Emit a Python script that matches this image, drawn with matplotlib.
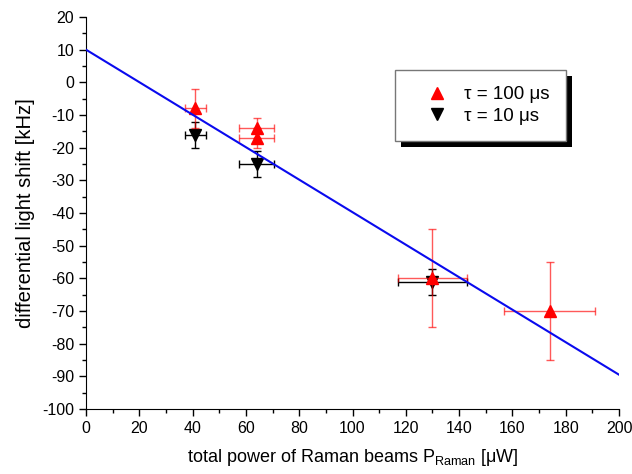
import matplotlib
matplotlib.use("Agg")
import matplotlib.pyplot as plt
from matplotlib.patches import Rectangle
from matplotlib.transforms import IdentityTransform
from matplotlib.ticker import MultipleLocator

plt.rcParams['font.family'] = ['Liberation Sans', 'DejaVu Sans']
plt.rcParams['axes.unicode_minus'] = False
plt.rcParams['mathtext.fontset'] = 'custom'
plt.rcParams['mathtext.rm'] = 'Liberation Sans'

# tau = 100 us (red)
red_x = [41, 64, 64, 130, 174]
red_y = [-8, -14, -17, -60, -70]
red_xerr = [4, 6.5, 6.5, 13, 17]
red_yerr = [6, 3, 3, 15, 15]

# tau = 10 us (black)
blk_x = [41, 64, 130]
blk_y = [-16, -25, -61]
blk_xerr = [4, 6.5, 13]
blk_yerr = [4, 4, 4]

# linear fit
fit_x = [0, 200]
fit_y = [10, -89.5]

fig = plt.figure(figsize=(6.32, 4.74), dpi=100)
ax = fig.add_axes([86/632, 1-409/474, (619-86)/632, (409-17)/474])

ax.errorbar(blk_x, blk_y, xerr=blk_xerr, yerr=blk_yerr, fmt='v', color='black',
            ms=8, elinewidth=1, capsize=3, capthick=1, zorder=2, label='τ = 10 μs')
ax.errorbar(red_x, red_y, xerr=red_xerr, yerr=red_yerr, fmt='^', color='red',
            ecolor=(1, 0, 0, 0.65), ms=8, elinewidth=1, capsize=3, capthick=1,
            zorder=3, label='τ = 100 μs')
ax.plot(fit_x, fit_y, color='#0a0aee', lw=1.5, zorder=4)

ax.set_xlim(0, 200)
ax.set_ylim(-100, 20)
ax.xaxis.set_major_locator(MultipleLocator(20))
ax.xaxis.set_minor_locator(MultipleLocator(10))
ax.yaxis.set_major_locator(MultipleLocator(10))
ax.yaxis.set_minor_locator(MultipleLocator(5))
ax.spines['top'].set_visible(False)
ax.spines['right'].set_visible(False)
ax.tick_params(which='major', direction='out', length=5, width=1, labelsize=11.5)
ax.tick_params(which='minor', direction='out', length=3, width=1)

ax.set_xlabel('total power of Raman beams P$_{\\mathrm{Raman}}$ [μW]', fontsize=13, labelpad=8)
ax.set_ylabel('differential light shift [kHz]', fontsize=14.5, labelpad=5)

handles, labels = ax.get_legend_handles_labels()
order = [1, 0]
leg = ax.legend([handles[i][0] for i in order], [labels[i] for i in order],
                loc='upper left', bbox_to_anchor=(395/632, 1-70/474),
                bbox_transform=fig.transFigure, borderaxespad=0,
                fontsize=13.5, frameon=True, fancybox=False, edgecolor='#777777',
                facecolor='white', framealpha=1,
                borderpad=0.85, handlelength=2.8, handletextpad=0.05, labelspacing=0.25)
leg.get_frame().set_linewidth(1)
leg.set_zorder(10)

fig.canvas.draw()
bb = leg.get_window_extent()
shadow = Rectangle((bb.x0 + 6, bb.y0 - 6), bb.width, bb.height,
                   facecolor='black', edgecolor='none', zorder=9)
shadow.set_transform(IdentityTransform())
shadow.set_clip_on(False)
ax.add_artist(shadow)

fig.savefig('out.png', dpi=100)
